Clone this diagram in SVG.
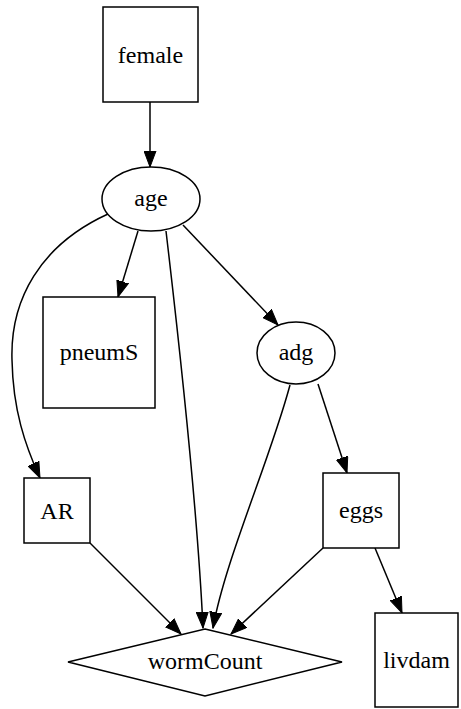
<svg xmlns="http://www.w3.org/2000/svg" width="461" height="709" viewBox="0 0 461 709">
<defs>
<marker id="ah" markerUnits="userSpaceOnUse" markerWidth="17" markerHeight="13" refX="16" refY="6.5" orient="auto">
<path d="M0,0.5 L16,6.5 L0,12.5 Z" fill="#000" stroke="#000" stroke-width="1"/>
</marker>
<style>
.n{fill:#fff;stroke:#000;stroke-width:1.5}
text{font-family:'Liberation Serif','Times New Roman',serif;font-size:24px;fill:#000;text-anchor:middle}
.e{fill:none;stroke:#000;stroke-width:1.5;marker-end:url(#ah)}
</style>
</defs>
<rect width="461" height="709" fill="#fff"/>
<g id="edges">
<path class="e" d="M150,102 L150,167"/>
<path class="e" d="M138,231 L118,297"/>
<path class="e" d="M108,214 C40,245 10,300 12,360 C13,410 25,445 40,478"/>
<path class="e" d="M166,231 C180,350 198,520 203,628"/>
<path class="e" d="M183,225 L278,325"/>
<path class="e" d="M290,385 C270,460 225,560 213,628"/>
<path class="e" d="M318,384 L347,473"/>
<path class="e" d="M90,543 L181,634"/>
<path class="e" d="M323,548 L231,634"/>
<path class="e" d="M375,548 L402,613"/>
</g>
<g id="female"><rect class="n" x="103" y="7" width="95" height="95"/><text x="150.5" y="63">female</text></g>
<g id="age"><ellipse class="n" cx="151" cy="199" rx="49" ry="32"/><text x="151" y="206">age</text></g>
<g id="pneumS"><rect class="n" x="43" y="297" width="112" height="111"/><text x="99" y="360">pneumS</text></g>
<g id="adg"><ellipse class="n" cx="296" cy="353" rx="39" ry="31"/><text x="296" y="360">adg</text></g>
<g id="AR"><rect class="n" x="24" y="478" width="66" height="65"/><text x="57" y="519">AR</text></g>
<g id="eggs"><rect class="n" x="323" y="473" width="76" height="75"/><text x="361" y="518">eggs</text></g>
<g id="livdam"><rect class="n" x="375" y="613" width="83" height="94"/><text x="416.5" y="668">livdam</text></g>
<g id="wormCount"><polygon class="n" points="205,629 342,662 205,696 68,662"/><text x="205" y="669">wormCount</text></g>
</svg>
